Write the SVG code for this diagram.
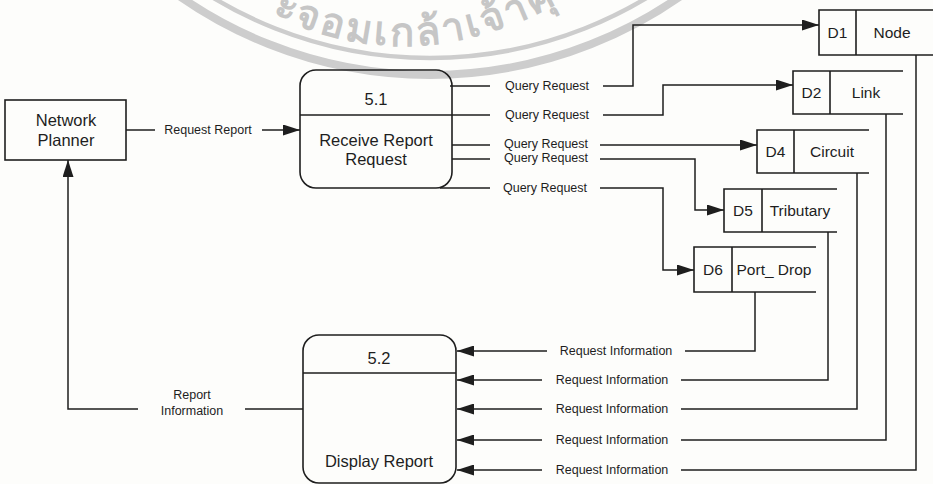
<svg xmlns="http://www.w3.org/2000/svg" width="933" height="484" viewBox="0 0 933 484">
<style>
.ln{fill:none;stroke:#1e1e1e;stroke-width:1.5}
.bx{fill:none;stroke:#1e1e1e;stroke-width:1.6}
.t{font-family:"Liberation Sans",Arial,sans-serif;fill:#1e1e1e;text-anchor:middle}
.lbl{font-size:12.5px}
.big{font-size:16.5px}
.st{font-size:15.5px}
.wm{fill:none;stroke:#cdcdcd}
</style>
<defs>
<marker id="ah" markerUnits="userSpaceOnUse" markerWidth="17" markerHeight="11" refX="17" refY="5.5" orient="auto">
<path d="M0,0 L17,5.5 L0,11 z" fill="#1e1e1e"/>
</marker>
<path id="wmp" d="M268,12 Q405.5,81 545,10 T620,-40"/>
</defs>
<rect x="0" y="0" width="933" height="484" fill="#fdfdfb"/>
<g id="watermark">
<circle class="wm" cx="430" cy="-362" r="420" stroke-width="4.5"/>
<circle class="wm" cx="430" cy="-362" r="437" stroke-width="8"/>
<text font-family="'Noto Sans','DejaVu Sans',sans-serif" font-size="40" font-weight="600" letter-spacing="3" fill="#c6c6c6"><textPath href="#wmp" startOffset="4">ะจอมเกล้าเจ้าคุ</textPath></text>
</g>
<g id="connectors">
<path class="ln" d="M126,130 H155"/>
<path class="ln" d="M262,130 H300" marker-end="url(#ah)"/>
<path class="ln" d="M450,86 H490"/>
<path class="ln" d="M603,86 H633 V25 H819" marker-end="url(#ah)"/>
<path class="ln" d="M452,115 H490"/>
<path class="ln" d="M603,115 H663 V85 H793" marker-end="url(#ah)"/>
<path class="ln" d="M452,145 H490"/>
<path class="ln" d="M600,145 H757" marker-end="url(#ah)"/>
<path class="ln" d="M452,159 H490"/>
<path class="ln" d="M600,159 H695 V210 H724" marker-end="url(#ah)"/>
<path class="ln" d="M440,188 H490"/>
<path class="ln" d="M600,188 H663 V270 H694" marker-end="url(#ah)"/>
<path class="ln" d="M755,292 V351 H685"/>
<path class="ln" d="M547,351 H457" marker-end="url(#ah)"/>
<path class="ln" d="M828,232 V380 H681"/>
<path class="ln" d="M542,380 H457" marker-end="url(#ah)"/>
<path class="ln" d="M857,173 V409 H681"/>
<path class="ln" d="M542,409 H457" marker-end="url(#ah)"/>
<path class="ln" d="M886,114 V440 H681"/>
<path class="ln" d="M542,440 H457" marker-end="url(#ah)"/>
<path class="ln" d="M916,55 V470 H681"/>
<path class="ln" d="M542,470 H457" marker-end="url(#ah)"/>
<path class="ln" d="M303,409 H245"/>
<path class="ln" d="M138,409 H68 V160" marker-end="url(#ah)"/>
<g class="t lbl">
<text x="208" y="134">Request Report</text>
<text x="547" y="90">Query Request</text>
<text x="547" y="119">Query Request</text>
<text x="546" y="148">Query Request</text>
<text x="546" y="162">Query Request</text>
<text x="545" y="192">Query Request</text>
<text x="616" y="355">Request Information</text>
<text x="612" y="384">Request Information</text>
<text x="612" y="413">Request Information</text>
<text x="612" y="444">Request Information</text>
<text x="612" y="474">Request Information</text>
<text x="192" y="399">Report</text>
<text x="192" y="415">Information</text>
</g>
</g>
<g id="network-planner">
<rect class="bx" x="5" y="100" width="121" height="60"/>
<text class="t big" x="66" y="126">Network</text>
<text class="t big" x="66" y="146">Planner</text>
</g>
<g id="p5-1">
<rect class="bx" x="300" y="70" width="152" height="118" rx="16"/>
<path class="ln" d="M300,115 H452"/>
<text class="t big" x="376" y="105">5.1</text>
<text class="t big" x="376" y="146">Receive Report</text>
<text class="t big" x="376" y="165">Request</text>
</g>
<g id="p5-2">
<rect class="bx" x="303" y="335" width="153" height="148" rx="16"/>
<path class="ln" d="M303,373 H456"/>
<text class="t big" x="379" y="364">5.2</text>
<text class="t big" x="379" y="467">Display Report</text>
</g>
<g id="d1">
<path class="bx" d="M933,10 H819 V55 H933 M856,10 V55"/>
<text class="t st" x="837.5" y="38">D1</text>
<text class="t st" x="892" y="38">Node</text>
</g>
<g id="d2">
<path class="bx" d="M903,71 H793 V114 H903 M830,71 V114"/>
<text class="t st" x="811.5" y="98">D2</text>
<text class="t st" x="866" y="98">Link</text>
</g>
<g id="d4">
<path class="bx" d="M869,130 H757 V173 H869 M794,130 V173"/>
<text class="t st" x="775.5" y="157">D4</text>
<text class="t st" x="832" y="157">Circuit</text>
</g>
<g id="d5">
<path class="bx" d="M837,189 H724 V232 H837 M762,189 V232"/>
<text class="t st" x="743" y="216">D5</text>
<text class="t st" x="800" y="216">Tributary</text>
</g>
<g id="d6">
<path class="bx" d="M816,247 H694 V292 H816 M732,247 V292"/>
<text class="t st" x="713" y="275">D6</text>
<text class="t st" x="774" y="275">Port_ Drop</text>
</g>
</svg>
